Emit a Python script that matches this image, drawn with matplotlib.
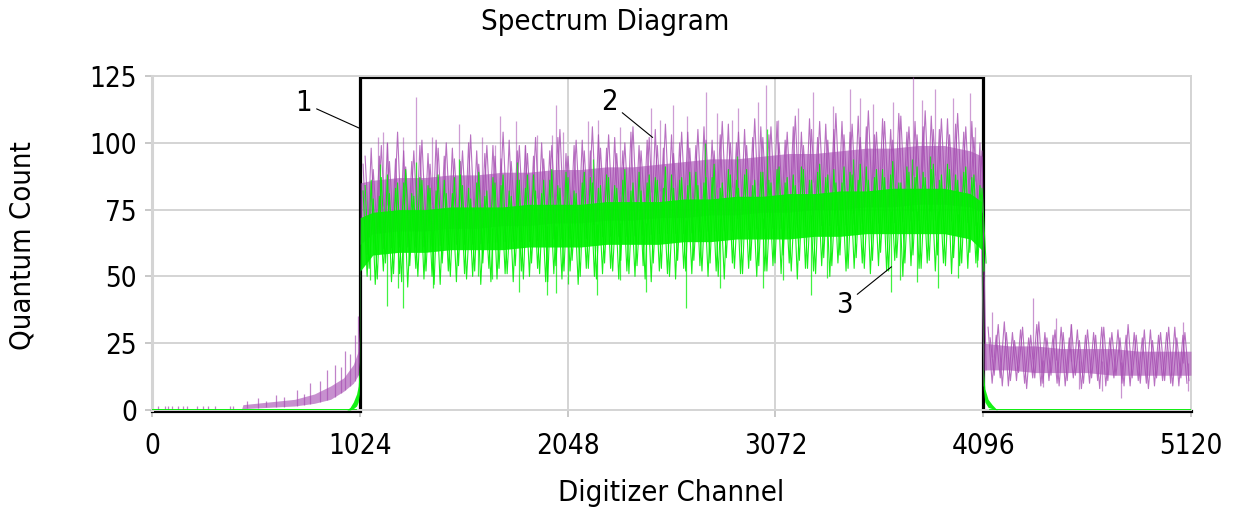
import numpy as np
import matplotlib
matplotlib.use('Agg')
import matplotlib.pyplot as plt
import matplotlib.transforms as mtransforms

# ---------------------------------------------------------------------
# Values (channel, quantum count)

X_TICKS = [0, 1024, 2048, 3072, 4096, 5120]
Y_TICKS = [0, 25, 50, 75, 100, 125]

# Trace 1: the gate window
BOX_CH  = [0, 1024, 1024, 4096, 4096, 5120]
BOX_VAL = [0, 0, 125, 125, 0, 0]

# Trace 2 (purple): dense core of the noise band
P_CH = [0, 440, 448, 576, 704, 800, 880, 944, 992, 1016, 1022, 1026,
        1088, 1216, 1344, 1472, 1600, 1728, 1856, 1984, 2112, 2240, 2368, 2496,
        2624, 2752, 2880, 3008, 3136, 3264, 3392, 3520, 3648, 3776, 3904, 4032,
        4090, 4100, 4224, 4352, 4480, 4608, 4736, 4864, 4992, 5120]
P_LO = [0, 0, 0.5, 1, 1.5, 2.5, 4, 7, 10, 13, 18, 62,
        66, 67, 67, 68, 68, 69, 69, 70, 70, 71, 71, 72,
        72, 73, 73, 74, 74, 75, 75, 76, 76, 77, 77, 76,
        74, 15, 15, 14, 14, 14, 13, 13, 13, 13]
P_HI = [0, 0, 2, 3, 4, 6, 9, 12, 17, 22, 30, 85,
        86, 87, 87, 88, 88, 89, 89, 90, 90, 91, 91, 92,
        93, 94, 94, 95, 96, 96, 97, 98, 98, 99, 99, 97,
        95, 25, 24, 24, 23, 23, 23, 22, 22, 22]

# Trace 3 (green): dense core of the noise band
G_CH = [0, 960, 976, 992, 1008, 1016, 1022, 1026,
        1088, 1216, 1344, 1472, 1600, 1728, 1856, 1984, 2112, 2240, 2368, 2496,
        2624, 2752, 2880, 3008, 3136, 3264, 3392, 3520, 3648, 3776, 3904, 4032,
        4088, 4096, 4104, 4120, 4140, 4165, 5120]
G_LO = [0, 0, 0, 0.5, 1.5, 3, 6, 52,
        58, 59, 59, 60, 60, 60, 61, 61, 61, 62, 62, 62,
        63, 63, 64, 64, 64, 65, 65, 66, 66, 66, 66, 64,
        60, 8, 3, 1, 0.5, 0, 0]
G_HI = [0, 0, 1, 3, 6, 9, 16, 72,
        74, 75, 75, 76, 76, 76, 77, 77, 77, 78, 78, 78,
        79, 79, 80, 80, 81, 81, 82, 82, 83, 83, 83, 81,
        78, 16, 8, 4, 2, 0, 0]

# ragged edges of the bands, every 40 channels across the window
RIPPLE_CH = np.arange(1040, 4096, 40)
P_RIP = [92, 98, 95, 100, 94, 97, 93, 99, 96, 101,
         95, 98, 93, 100, 97, 96, 99, 94, 101, 97,
         99, 95, 100, 97, 102, 96, 99, 101, 97, 103,
         98, 102, 97, 104, 99, 101, 105, 98, 103, 100,
         104, 99, 106, 101, 103, 107, 100, 105, 102, 106,
         103, 108, 101, 106, 104, 109, 102, 107, 105, 108,
         104, 110, 106, 103, 109, 105, 111, 104, 108, 106,
         110, 105, 109, 107, 104, 108, 100]
P_RIP2 = [95, 90, 99, 93, 104, 91, 97, 101, 92, 98,
          100, 94, 97, 103, 92, 99, 95, 104, 93, 99,
          96, 102, 94, 99, 105, 95, 101, 97, 106, 98,
          103, 96, 100, 106, 97, 102, 99, 107, 96, 104,
          98, 105, 101, 97, 108, 100, 104, 99, 109, 102,
          106, 100, 104, 110, 99, 105, 108, 101, 111, 103,
          107, 102, 112, 104, 108, 101, 110, 106, 103, 112,
          105, 109, 103, 111, 106, 102, 97]
G_UP = [82, 86, 80, 88, 83, 85, 81, 87, 84, 82,
        86, 81, 88, 83, 85, 80, 87, 84, 82, 86,
        83, 88, 81, 86, 84, 89, 82, 85, 87, 83,
        88, 84, 86, 82, 89, 85, 87, 83, 88, 86,
        84, 89, 85, 87, 83, 90, 86, 88, 84, 89,
        86, 90, 85, 88, 91, 86, 89, 87, 90, 85,
        89, 86, 91, 87, 90, 88, 85, 91, 87, 89,
        90, 86, 92, 88, 89, 87, 84]
G_UP2 = [84, 79, 87, 81, 85, 90, 80, 86, 83, 88,
         81, 87, 84, 79, 89, 82, 85, 88, 80, 86,
         88, 82, 86, 90, 83, 87, 81, 89, 85, 84,
         87, 83, 90, 85, 82, 88, 86, 91, 83, 87,
         89, 84, 87, 92, 85, 88, 83, 90, 86, 89,
         85, 91, 87, 84, 90, 86, 92, 88, 85, 91,
         88, 92, 86, 90, 87, 93, 85, 89, 91, 87,
         92, 88, 90, 86, 91, 88, 83]
G_DN = [50, 47, 52, 48, 51, 46, 53, 49, 50, 47,
        52, 48, 51, 50, 47, 53, 49, 51, 48, 52,
        50, 53, 48, 51, 49, 52, 47, 53, 50, 51,
        53, 49, 52, 50, 54, 48, 52, 51, 49, 53,
        51, 54, 50, 52, 49, 55, 51, 53, 50, 52,
        54, 51, 55, 49, 53, 52, 54, 50, 55, 52,
        53, 55, 51, 54, 52, 56, 50, 54, 53, 55,
        52, 55, 51, 54, 53, 55, 52]
G_DN2 = [53, 49, 55, 51, 48, 54, 50, 52, 47, 55,
         50, 54, 49, 52, 55, 48, 53, 51, 54, 49,
         55, 51, 48, 54, 52, 56, 50, 53, 49, 55,
         52, 56, 51, 54, 49, 55, 53, 50, 56, 52,
         56, 52, 55, 50, 57, 53, 51, 56, 54, 52,
         55, 58, 52, 56, 53, 51, 57, 54, 58, 53,
         57, 53, 56, 59, 52, 57, 55, 58, 53, 56,
         58, 54, 57, 55, 59, 56, 55]

# big single-channel spikes
P_SPIKE_CH = [1115, 1139, 1157, 1238, 1300, 1380, 1513, 1625, 1690, 1715,
              1792, 1838, 1896, 1970, 1991, 2027, 2150, 2200, 2306, 2459,
              2503, 2569, 2635, 2729, 2783, 2857, 2889, 2988, 3026, 3087,
              3185, 3259, 3358, 3440, 3489, 3555, 3653, 3752, 3793, 3859,
              3949, 4031, 4056]
P_SPIKE_VAL = [102, 104, 100, 102, 117, 102, 107, 102, 99, 110,
               108, 99, 103, 103, 114, 104, 108, 108.5, 106, 113,
               108.5, 114, 110, 119, 111, 108.5, 113, 115.4, 121.6, 108.5,
               113, 119, 113.6, 120.3, 116.6, 114.7, 115.4, 124.8, 116, 120.3,
               116.6, 118.5, 106]
G_SPIKE_UP_CH  = [1124, 1300, 1513, 1797, 2173, 2725, 2881, 3029, 3455, 3743, 3834]
G_SPIKE_UP_VAL = [92, 93, 94, 93, 94, 100, 95, 105, 94, 94, 95]
G_SPIKE_DN_CH  = [1074, 1157, 1214, 1237, 1385, 1608, 1674, 1809, 1945, 1991,
                  2050, 2191, 2306, 2434, 2632, 2799, 3009, 3111, 3246, 3325,
                  3642, 3686, 3768, 3872, 3974, 4064]
G_SPIKE_DN_VAL = [48.6, 39, 45.5, 38, 45.6, 50, 49, 44, 43, 43.7,
                  47, 43, 48.6, 44.3, 38, 45.5, 45.5, 48.6, 43, 49.3,
                  44.3, 48.6, 48, 45.5, 49.3, 53.6]

# purple tail beyond the window
TAIL_CH = np.arange(4120, 5120, 40)
P_TAIL_UP = [31, 28, 33, 29, 30, 27, 32, 29, 28, 31, 27, 30, 28,
             29, 31, 27, 30, 28, 29, 27, 30, 28, 29, 31, 28]
P_TAIL_DN = [10, 12, 9, 11, 10, 12, 9, 11, 10, 9, 12, 8, 10,
             11, 9, 12, 10, 9, 11, 10, 9, 11, 10, 9, 10]
P_TAIL_UP2 = [27, 32, 29, 26, 31, 28, 33, 27, 30, 29, 32, 26, 30,
              28, 31, 29, 27, 32, 28, 30, 26, 29, 31, 27, 29]
P_TAIL_DN2 = [13, 9, 11, 14, 8, 12, 10, 13, 9, 11, 13, 10, 12,
              8, 11, 13, 9, 12, 10, 8, 12, 11, 9, 12, 11]
P_TAIL_SPIKE_CH  = [4140, 4342, 4455, 4530, 5081, 4391, 4570, 4680, 4773, 5105]
P_TAIL_SPIKE_VAL = [36.8, 42, 34.4, 32, 33, 8.7, 8, 7, 4.5, 7]

# purple rise below channel 1024
P_LEFT_SPIKE_CH  = [30, 64, 79, 99, 128, 153, 172, 222, 251, 276, 310, 384, 399,
                    470, 520, 560, 610, 650, 713, 750, 780, 830, 860, 900, 930,
                    950, 975, 1000, 1016]
P_LEFT_SPIKE_VAL = [1.5, 1.5, 1.5, 1.5, 1.5, 1.5, 1.5, 1.5, 1.5, 1.5, 1.5, 1.5, 1.5,
                    3.5, 4.5, 3.5, 5.5, 5, 7.5, 6, 10, 11, 15, 17, 16,
                    22, 21, 28, 35]

# annotations: label, text position, pointed-at position
NOTE_LABELS = ['1', '2', '3']
NOTE_TEXT = [(744, 115), (2252, 115.3), (3410, 39.3)]
NOTE_XY = [(1024, 105.4), (2467, 102), (3644, 53.6)]

PURPLE = '#a64db2'
GREEN = '#00f000'
FONT = dict(family='DejaVu Sans', stretch='condensed', size=21)
TICK_SIZE = 20

# ---------------------------------------------------------------------
def zigzag(ax, ch, up, dn, color, alpha, z):
    """Noise strokes: up at ch, down 20 channels later."""
    xs = np.ravel(np.column_stack([ch, np.asarray(ch) + 20]))
    ys = np.ravel(np.column_stack([up, dn]))
    ax.plot(xs, ys, color=color, lw=0.8, alpha=alpha, zorder=z)


def spikes(ax, ch, val, base_ch, base_val, color, alpha, z):
    base = np.interp(ch, base_ch, base_val)
    ax.vlines(ch, base, val, colors=color, lw=0.9, alpha=alpha, zorder=z)


fig = plt.figure(figsize=(12.36, 5.15), dpi=100)
ax = fig.add_axes((0.123, 0.2039, 0.8406, 0.6485))

ax.set_xlim(0, 5120)
ax.set_ylim(0, 125)
ax.set_xticks(X_TICKS)
ax.set_yticks(Y_TICKS)
ax.grid(True, color='#d4d4d4', lw=1.4)
ax.set_axisbelow(True)
for s in ax.spines.values():
    s.set_color('#d4d4d4')
    s.set_linewidth(1.4)
ax.spines['left'].set_linewidth(2.2)
ax.tick_params(axis='both', colors='#c8c8c8', length=5, width=1.4,
               labelcolor='black')
ax.tick_params(axis='x', pad=11)
ax.tick_params(axis='y', pad=6)
for lab in ax.get_xticklabels() + ax.get_yticklabels():
    lab.set_fontfamily(FONT['family'])
    lab.set_fontstretch(FONT['stretch'])
    lab.set_fontsize(TICK_SIZE)

# trace 1 - gate window (nudged down a hair so the green zero line sits on top)
shift = mtransforms.offset_copy(ax.transData, fig=fig, x=0, y=-0.6, units='dots')
ax.plot(BOX_CH, BOX_VAL, color='black', lw=2.3, zorder=2, clip_on=False,
        solid_joinstyle='miter', transform=shift)

# trace 2 - purple
p_lo_at = lambda ch: np.interp(ch, P_CH, P_LO)
p_mid = (np.array(P_LO) + np.array(P_HI)) / 2
ax.fill_between(P_CH, P_LO, P_HI, color=PURPLE, alpha=0.62, lw=0, zorder=3)
zigzag(ax, RIPPLE_CH, P_RIP, p_lo_at(RIPPLE_CH + 20) - 6, PURPLE, 0.8, 3)
zigzag(ax, RIPPLE_CH + 10, P_RIP2, p_lo_at(RIPPLE_CH + 30), PURPLE, 0.8, 3)
zigzag(ax, TAIL_CH, P_TAIL_UP, P_TAIL_DN, PURPLE, 0.8, 3)
zigzag(ax, TAIL_CH + 10, P_TAIL_UP2, P_TAIL_DN2, PURPLE, 0.8, 3)
spikes(ax, P_SPIKE_CH, P_SPIKE_VAL, P_CH, p_mid, PURPLE, 0.55, 3)
spikes(ax, P_TAIL_SPIKE_CH, P_TAIL_SPIKE_VAL, P_CH, p_mid, PURPLE, 0.6, 3)
spikes(ax, P_LEFT_SPIKE_CH, P_LEFT_SPIKE_VAL, P_CH, P_LO, PURPLE, 0.7, 3)

# trace 3 - green
g_mid = (np.array(G_LO) + np.array(G_HI)) / 2
ax.fill_between(G_CH, G_LO, G_HI, color=GREEN, alpha=0.92, lw=0, zorder=4)
zigzag(ax, RIPPLE_CH, G_UP, G_DN, GREEN, 0.9, 4)
zigzag(ax, RIPPLE_CH + 10, G_UP2, G_DN2, GREEN, 0.9, 4)
ax.plot([0, 1000], [0, 0], color=GREEN, lw=2, zorder=4)
ax.plot([4130, 5120], [0, 0], color=GREEN, lw=2, zorder=4)
spikes(ax, G_SPIKE_UP_CH, G_SPIKE_UP_VAL, G_CH, g_mid, GREEN, 0.75, 4)
spikes(ax, G_SPIKE_DN_CH, G_SPIKE_DN_VAL, G_CH, g_mid, GREEN, 0.75, 4)

# numbered leaders
for lab, txy, xy in zip(NOTE_LABELS, NOTE_TEXT, NOTE_XY):
    ax.annotate(lab, xy=xy, xytext=txy, ha='center', va='center',
                fontfamily=FONT['family'], fontstretch=FONT['stretch'],
                fontsize=FONT['size'], zorder=6,
                arrowprops=dict(arrowstyle='-', color='black', lw=0.8,
                                shrinkA=2, shrinkB=0))

fig.text(0.49, 0.957, 'Spectrum Diagram', ha='center', va='center', **FONT)
fig.text(0.543, 0.043, 'Digitizer Channel', ha='center', va='center', **FONT)
fig.text(0.018, 0.524, 'Quantum Count', ha='center', va='center',
         rotation=90, **FONT)

fig.savefig('out.png', dpi=100)
